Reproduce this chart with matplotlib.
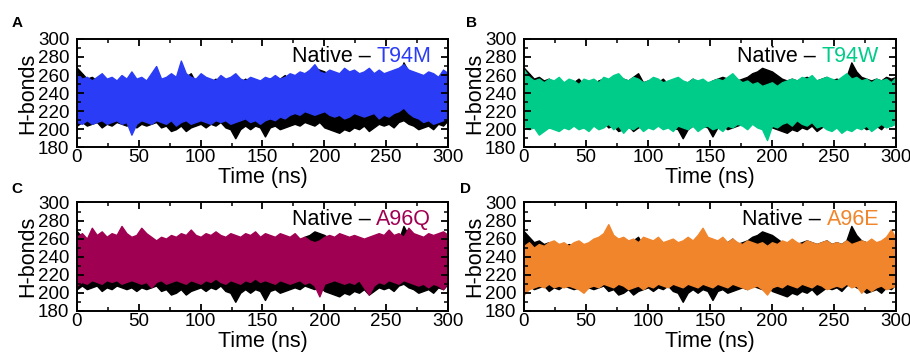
import numpy as np
import matplotlib
matplotlib.use("Agg")
import matplotlib.pyplot as plt
from matplotlib.ticker import MultipleLocator

plt.rcParams['font.family'] = ['Liberation Sans', 'DejaVu Sans']

# time axis (ns), sampled every 4 ns
time_ns = list(range(0, 301, 4))

# Native (black) envelope: upper / lower H-bond counts
native_hi = [268, 262, 256, 258, 254, 256, 252, 254, 250, 254, 252, 256, 250, 252, 250, 254,
             256, 252, 254, 250, 256, 254, 258, 262, 252, 254, 250, 252, 256, 250, 252, 254,
             250, 252, 256, 252, 254, 250, 254, 256, 258, 256, 260, 254, 256, 258, 262, 264,
             268, 266, 264, 260, 256, 254, 256, 254, 256, 258, 256, 254, 256, 258, 254, 256,
             254, 258, 274, 264, 258, 256, 254, 256, 254, 258, 256, 258]
native_lo = [204, 208, 204, 206, 208, 202, 206, 204, 208, 206, 204, 206, 202, 206, 204, 206,
             208, 202, 204, 198, 200, 204, 198, 202, 204, 206, 202, 206, 204, 208, 202, 200,
             190, 200, 204, 200, 204, 202, 192, 202, 204, 200, 202, 204, 206, 204, 208, 206,
             204, 208, 202, 200, 198, 196, 200, 198, 202, 200, 204, 198, 202, 206, 204, 206,
             202, 208, 210, 206, 204, 200, 202, 204, 200, 206, 204, 210]

# Mutants
t94m_hi = [262, 256, 258, 254, 258, 262, 256, 258, 254, 260, 256, 264, 256, 258, 254, 262,
           270, 256, 258, 262, 258, 276, 262, 258, 256, 262, 258, 256, 254, 260, 256, 258,
           262, 256, 254, 258, 256, 254, 258, 256, 260, 256, 258, 262, 260, 264, 262, 266,
           272, 264, 262, 266, 264, 262, 268, 264, 266, 262, 264, 268, 262, 266, 262, 264,
           266, 268, 272, 266, 264, 262, 260, 264, 262, 258, 266, 262]
t94m_lo = [208, 206, 210, 206, 208, 210, 206, 208, 210, 206, 208, 194, 206, 210, 208, 206,
           210, 208, 206, 210, 204, 208, 210, 206, 208, 210, 208, 206, 210, 208, 210, 206,
           208, 210, 212, 208, 210, 206, 210, 212, 210, 214, 212, 216, 218, 216, 220, 218,
           216, 218, 220, 216, 214, 216, 212, 214, 218, 216, 214, 216, 218, 212, 216, 214,
           218, 220, 224, 218, 214, 212, 208, 210, 206, 208, 210, 212]

t94w_hi = [266, 258, 254, 256, 252, 256, 254, 258, 252, 256, 254, 250, 256, 254, 256, 252,
           258, 256, 260, 262, 256, 254, 258, 256, 252, 254, 258, 256, 252, 254, 256, 258,
           254, 252, 256, 254, 256, 252, 254, 256, 254, 258, 262, 256, 252, 254, 250, 252,
           248, 250, 252, 248, 252, 254, 256, 254, 258, 256, 260, 254, 256, 258, 256, 254,
           258, 262, 256, 258, 254, 256, 252, 256, 254, 256, 252, 258]
t94w_lo = [204, 200, 202, 194, 198, 202, 200, 198, 202, 200, 204, 200, 202, 198, 204, 200,
           202, 206, 200, 204, 196, 202, 200, 204, 198, 202, 200, 204, 200, 202, 198, 204,
           202, 200, 204, 198, 202, 204, 200, 202, 198, 204, 202, 206, 204, 200, 206, 202,
           200, 188, 204, 202, 206, 208, 204, 210, 206, 204, 208, 202, 204, 200, 198, 202,
           196, 200, 198, 202, 200, 204, 198, 202, 206, 202, 204, 206]

a96q_hi = [262, 266, 260, 272, 264, 268, 262, 266, 264, 274, 266, 262, 264, 272, 266, 262,
           258, 262, 260, 264, 262, 266, 264, 270, 264, 262, 266, 264, 268, 264, 262, 266,
           264, 262, 266, 264, 268, 262, 266, 264, 262, 266, 264, 262, 266, 260, 262, 258,
           256, 258, 262, 264, 262, 266, 264, 262, 264, 262, 260, 262, 264, 266, 264, 270,
           264, 266, 262, 272, 266, 264, 262, 266, 264, 266, 268, 264]
a96q_lo = [208, 212, 210, 214, 212, 210, 214, 212, 214, 210, 212, 214, 212, 210, 212, 206,
           212, 214, 210, 212, 214, 212, 210, 214, 212, 210, 214, 212, 216, 212, 210, 214,
           212, 210, 214, 212, 216, 212, 214, 212, 210, 214, 212, 210, 212, 214, 210, 212,
           208, 196, 210, 212, 214, 212, 210, 212, 210, 214, 206, 198, 208, 212, 210, 214,
           212, 210, 214, 212, 210, 208, 210, 206, 210, 208, 204, 212]

a96e_hi = [252, 256, 250, 254, 252, 256, 258, 254, 256, 252, 256, 258, 254, 256, 260, 262,
           266, 276, 264, 260, 262, 258, 260, 256, 262, 260, 258, 262, 256, 258, 260, 256,
           258, 262, 258, 264, 272, 262, 260, 258, 262, 256, 260, 256, 254, 258, 256, 254,
           256, 252, 256, 254, 258, 256, 260, 256, 254, 258, 256, 254, 256, 258, 254, 256,
           254, 258, 254, 256, 258, 256, 260, 256, 258, 262, 270, 260]
a96e_lo = [198, 204, 206, 208, 206, 210, 206, 208, 206, 208, 206, 204, 200, 206, 208, 206,
           210, 208, 206, 210, 208, 204, 206, 208, 204, 208, 206, 210, 208, 206, 210, 208,
           206, 210, 208, 206, 210, 208, 206, 210, 208, 206, 210, 208, 206, 204, 206, 208,
           204, 198, 206, 208, 206, 210, 208, 206, 210, 208, 206, 210, 208, 204, 206, 208,
           206, 210, 206, 208, 200, 206, 202, 206, 208, 204, 206, 208]

panels = [
    ("A", "T94M", "#2a3cf5", t94m_hi, t94m_lo),
    ("B", "T94W", "#00cc8a", t94w_hi, t94w_lo),
    ("C", "A96Q", "#a00052", a96q_hi, a96q_lo),
    ("D", "A96E", "#f0852c", a96e_hi, a96e_lo),
]

x_ticks = [0, 50, 100, 150, 200, 250, 300]
y_ticks = [180, 200, 220, 240, 260, 280, 300]

fig = plt.figure(figsize=(9.1, 3.54), dpi=100)
positions = [
    [0.0846, 0.584, 0.4077, 0.306],
    [0.5758, 0.584, 0.4088, 0.306],
    [0.0846, 0.122, 0.4077, 0.306],
    [0.5758, 0.122, 0.4088, 0.306],
]
letter_pos = [(0.013, 0.935), (0.512, 0.935), (0.013, 0.465), (0.505, 0.465)]

for (letter, name, col, hi, lo), pos, lp in zip(panels, positions, letter_pos):
    ax = fig.add_axes(pos)
    ax.fill_between(time_ns, native_lo, native_hi, color='black', lw=1.0, edgecolor='black')
    ax.fill_between(time_ns, lo, hi, color=col, lw=1.0, edgecolor=col)
    ax.set_xlim(0, 300)
    ax.set_ylim(180, 300)
    ax.set_xticks(x_ticks)
    ax.set_yticks(y_ticks)
    ax.xaxis.set_minor_locator(MultipleLocator(25))
    ax.yaxis.set_minor_locator(MultipleLocator(10))
    ax.tick_params(which='both', direction='in', top=True, right=True, labelsize=13.5)
    ax.tick_params(axis='x', which='both', pad=1.5)
    ax.tick_params(axis='y', which='both', pad=5.5)
    ax.tick_params(which='major', length=5, width=1.3)
    ax.tick_params(which='minor', length=3, width=1.1)
    for s in ax.spines.values():
        s.set_linewidth(1.4)
    ax.set_xlabel("Time (ns)", fontsize=15.5, labelpad=0.5)
    ax.set_ylabel("H-bonds", fontsize=15.5, labelpad=0)
    t = ax.text(0.955, 0.79, name, transform=ax.transAxes, fontsize=15.5,
                ha='right', va='baseline', color=col)
    ax.annotate("Native \u2013 ", xy=(0, 0), xycoords=t, fontsize=15.5, color='black',
                va='bottom', ha='right')
    fig.text(lp[0], lp[1], letter, fontsize=11, fontweight='bold', ha='left', va='center')

fig.savefig("out.png", dpi=100)
